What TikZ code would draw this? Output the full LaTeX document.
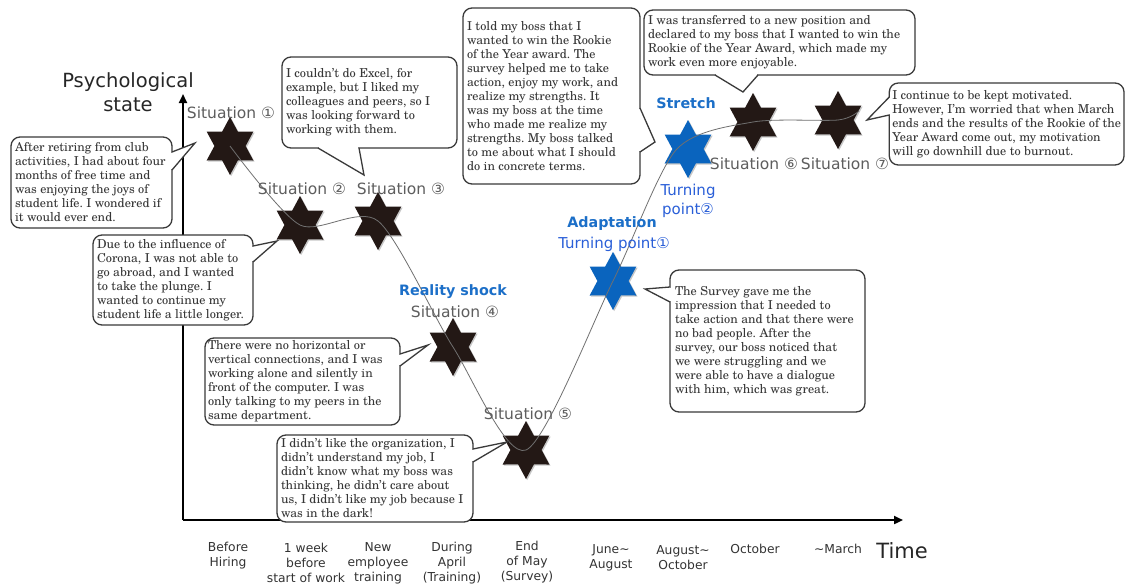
\documentclass[tikz,border=0pt]{standalone}
\usepackage{fontspec}
\setmainfont{texgyreschola}[Extension=.otf, UprightFont=*-regular, BoldFont=*-bold, ItalicFont=*-italic, BoldItalicFont=*-bolditalic]
\newfontfamily\labfont{DejaVu Sans}
\usetikzlibrary{arrows.meta,calc}
\frenchspacing

\definecolor{inkblack}{HTML}{231815}
\definecolor{starblue}{HTML}{0A64BE}
\definecolor{labgray}{HTML}{5E5E5E}
\definecolor{headblue}{HTML}{1C6FC8}
\definecolor{tpblue}{HTML}{2A5FD8}
\definecolor{bodytext}{HTML}{363636}
\definecolor{rimgray}{HTML}{3A3A3A}
\definecolor{curvegray}{HTML}{707070}

\tikzset{
  situation/.style={font=\labfont\fontsize{15.5}{18}\selectfont, text=labgray, inner sep=0pt},
  phase/.style={font=\labfont\bfseries\fontsize{14.3}{17}\selectfont, text=headblue, inner sep=0pt},
  turning/.style={font=\labfont\fontsize{15}{18}\selectfont, text=tpblue, inner sep=0pt, align=center},
  balloon/.style={draw=rimgray, line width=1.3pt, fill=white, rounded corners=9pt,
    inner xsep=4pt, inner ysep=0pt, outer sep=0pt, align=left, text=bodytext,
    font=\fontsize{12.3}{14}\selectfont},
  rim/.style={draw=rimgray, line width=1.3pt, line join=miter},
  period/.style={font=\labfont\fontsize{12.3}{15}\selectfont, text=black!80, align=center, inner sep=0pt},
  axis/.style={line width=2.2pt, draw=black, -{Triangle[length=9pt,width=8pt]}},
  curve/.style={draw=curvegray, line width=0.8pt},
  axistitle/.style={font=\labfont, text=black!85, inner sep=0pt, align=center},
  starshade/.style={fill=black, opacity=0.22},
}

% six-pointed star: name, centre, colour
\newcommand\hexagram[3]{%
  \coordinate (#1) at (#2);
  \foreach \f/\dx in {starshade/1.2, #3/0}{%
    \fill[\f] ($(#1)+(\dx,\dx)$)
      +(90:27 and 29) -- +(60:15.6 and 16.7) -- +(30:27 and 29) -- +(0:15.6 and 16.7)
      -- +(-30:27 and 29) -- +(-60:15.6 and 16.7) -- +(-90:27 and 29) -- +(-120:15.6 and 16.7)
      -- +(-150:27 and 29) -- +(180:15.6 and 16.7) -- +(150:27 and 29) -- +(120:15.6 and 16.7)
      -- cycle;}}

% first line of a balloon, padded to the balloon's inner width
\newcommand\firstrow[2]{\makebox[#1][l]{#2}}

% speech-balloon tail: base point, tip, base point
\newcommand\balloontail[3]{%
  \fill[white] (#1) -- (#2) -- (#3) -- cycle;
  \draw[white, line width=2.6pt, shorten <=0.7pt, shorten >=0.7pt] (#1) -- (#3);
  \draw[rim] (#1) -- (#2) -- (#3);}

\begin{document}
\begin{tikzpicture}[x=1pt,y=-1pt]
\useasboundingbox (0,0) rectangle (1126,586);
\fill[white] (0,0) rectangle (1126,586);

% axes
\coordinate (origin) at (183,520);
\coordinate (ytop) at (183,94);
\coordinate (xend) at (903,520);
\draw[axis] (origin) -- (ytop);
\draw[axis] (origin) -- (xend);

\node[axistitle, font=\labfont\fontsize{19.5}{24}\selectfont] (ylab) at (128,92) {Psychological\\state};
\node[axistitle, font=\labfont\fontsize{21}{24}\selectfont] (xlab) at (902,551) {Time};

% stars
\hexagram{s1}{230,146}{inkblack}
\hexagram{s2}{300,225}{inkblack}
\hexagram{s3}{378,221}{inkblack}
\hexagram{s4}{453,347}{inkblack}
\hexagram{s5}{526,450}{inkblack}
\hexagram{tp1}{613,281}{starblue}
\hexagram{tp2}{688,149}{starblue}
\hexagram{s6}{753,122}{inkblack}
\hexagram{s7}{838,120}{inkblack}

% trajectory: it bends across the upper-left arm of the second turning point
\coordinate (bend) at (676,150);
\coordinate (trailend) at (859,111);
\draw[curve] plot[smooth, tension=0.45] coordinates
  {(s1) (s2) (s3) (s4) (s5) (tp1) (bend) (s6) (s7) (trailend)};

% star labels
\node[situation] (l1) at (231,113) {Situation ①};
\node[situation] (l2) at (302,189) {Situation ②};
\node[situation] (l3) at (401,189) {Situation ③};
\node[situation] (l4) at (455,312) {Situation ④};
\node[situation] (l5) at (528,414) {Situation ⑤};
\node[situation] (l6) at (754,164) {Situation ⑥};
\node[situation] (l7) at (845,164) {Situation ⑦};
\node[phase] (ph1) at (453,292) {Reality shock};
\node[phase] (ph2) at (612,224) {Adaptation};
\node[phase] (ph3) at (686,103) {Stretch};
\node[turning] (tl1) at (614,244) {Turning point①};
\node[turning, font=\labfont\fontsize{15}{19}\selectfont] (tl2) at (688,201) {Turning\\ point②};

% speech balloons (box width = first-row width + 8pt)
\node[balloon, minimum height=91pt] (c1) at (91.5,182.5)
 {\firstrow{153pt}{After retiring from club}\\activities, I had about four\\months of free time and\\was enjoying the joys of\\student life. I wondered if\\it would ever end.};
\node[balloon, minimum height=91pt] (c2) at (369.5,102.5)
 {\firstrow{167pt}{I couldn't do Excel, for}\\example, but I liked my\\colleagues and peers, so I\\was looking forward to\\working with them.};
\node[balloon, minimum height=176pt] (c3) at (551.5,96)
 {\firstrow{169pt}{I told my boss that I}\\wanted to win the Rookie\\of the Year award. The\\survey helped me to take\\action, enjoy my work, and\\realize my strengths. It\\was my boss at the time\\who made me realize my\\strengths. My boss talked\\to me about what I should\\do in concrete terms.};
\node[balloon, minimum height=65pt] (c4) at (779.5,42.5)
 {\firstrow{263pt}{I was transferred to a new position and}\\declared to my boss that I wanted to win the\\Rookie of the Year Award, which made my\\work even more enjoyable.};
\node[balloon, inner xsep=3pt, minimum height=82pt, anchor=east] (c5) at (1124,124)
 {I continue to be kept motivated.\\However, I'm worried that when March\\ends and the results of the Rookie of the\\Year Award come out, my motivation\\will go downhill due to burnout.};
\node[balloon, minimum height=90pt] (c6) at (173,280)
 {\firstrow{152pt}{Due to the influence of}\\Corona, I was not able to\\go abroad, and I wanted\\to take the plunge. I\\wanted to continue my\\student life a little longer.};
\node[balloon, inner xsep=3pt, minimum height=87pt] (c7) at (302.5,381.5)
 {\firstrow{189pt}{There were no horizontal or}\\vertical connections, and I was\\working alone and silently in\\front of the computer. I was\\only talking to my peers in the\\same department.};
\node[balloon, minimum height=87pt] (c8) at (375,478.5)
 {\firstrow{188pt}{I didn't like the organization, I}\\didn't understand my job, I\\didn't know what my boss was\\thinking, he didn't care about\\us, I didn't like my job because I\\was in the dark!};
\node[balloon, inner xsep=5pt, minimum height=142pt] (c9) at (767.5,341)
 {\firstrow{185pt}{The Survey gave me the}\\impression that I needed to\\take action and that there were\\no bad people. After the\\survey, our boss noticed that\\we were struggling and we\\were able to have a dialogue\\with him, which was great.};

% balloon tails
\coordinate (t1) at (195,143);
\coordinate (t2) at (364,175);
\coordinate (t3) at (655,142);
\coordinate (t4) at (743,92);
\coordinate (t5) at (867,120);
\coordinate (t6) at (277,241);
\coordinate (t7) at (428,345);
\coordinate (t8) at (507,442);
\coordinate (t9) at (645,289);
\balloontail{$(c1.north east)+(0,15)$}{t1}{$(c1.north east)+(0,33)$}
\balloontail{$(c2.south west)+(36,0)$}{t2}{$(c2.south west)+(77,0)$}
\balloontail{$(c3.north east)+(0,100)$}{t3}{$(c3.north east)+(0,144)$}
\balloontail{$(c4.south west)+(71,0)$}{t4}{$(c4.south west)+(114,0)$}
\balloontail{$(c5.north west)+(0,14)$}{t5}{$(c5.north west)+(0,32)$}
\balloontail{$(c6.north east)+(0,11)$}{t6}{$(c6.north east)+(0,27)$}
\balloontail{$(c7.north east)+(0,16)$}{t7}{$(c7.north east)+(0,28)$}
\balloontail{$(c8.north east)+(0,14)$}{t8}{$(c8.north east)+(0,27)$}
\balloontail{$(c9.north west)+(0,17)$}{t9}{$(c9.north west)+(0,32)$}

% time periods
\node[period] (p1) at (228,555.5) {Before\\Hiring};
\node[period] (p2) at (306,563) {1 week\\before\\start of work};
\node[period] (p3) at (378,563) {New\\employee\\training};
\node[period] (p4) at (452,563) {During\\April\\(Training)};
\node[period] (p5) at (527,562) {End\\of May\\(Survey)};
\node[period] (p6) at (611,557.5) {June\textasciitilde\\August};
\node[period] (p7) at (683,557.5) {August\textasciitilde\\October};
\node[period] (p8) at (755,549) {October};
\node[period] (p9) at (838,549) {\textasciitilde March};
\end{tikzpicture}
\end{document}
